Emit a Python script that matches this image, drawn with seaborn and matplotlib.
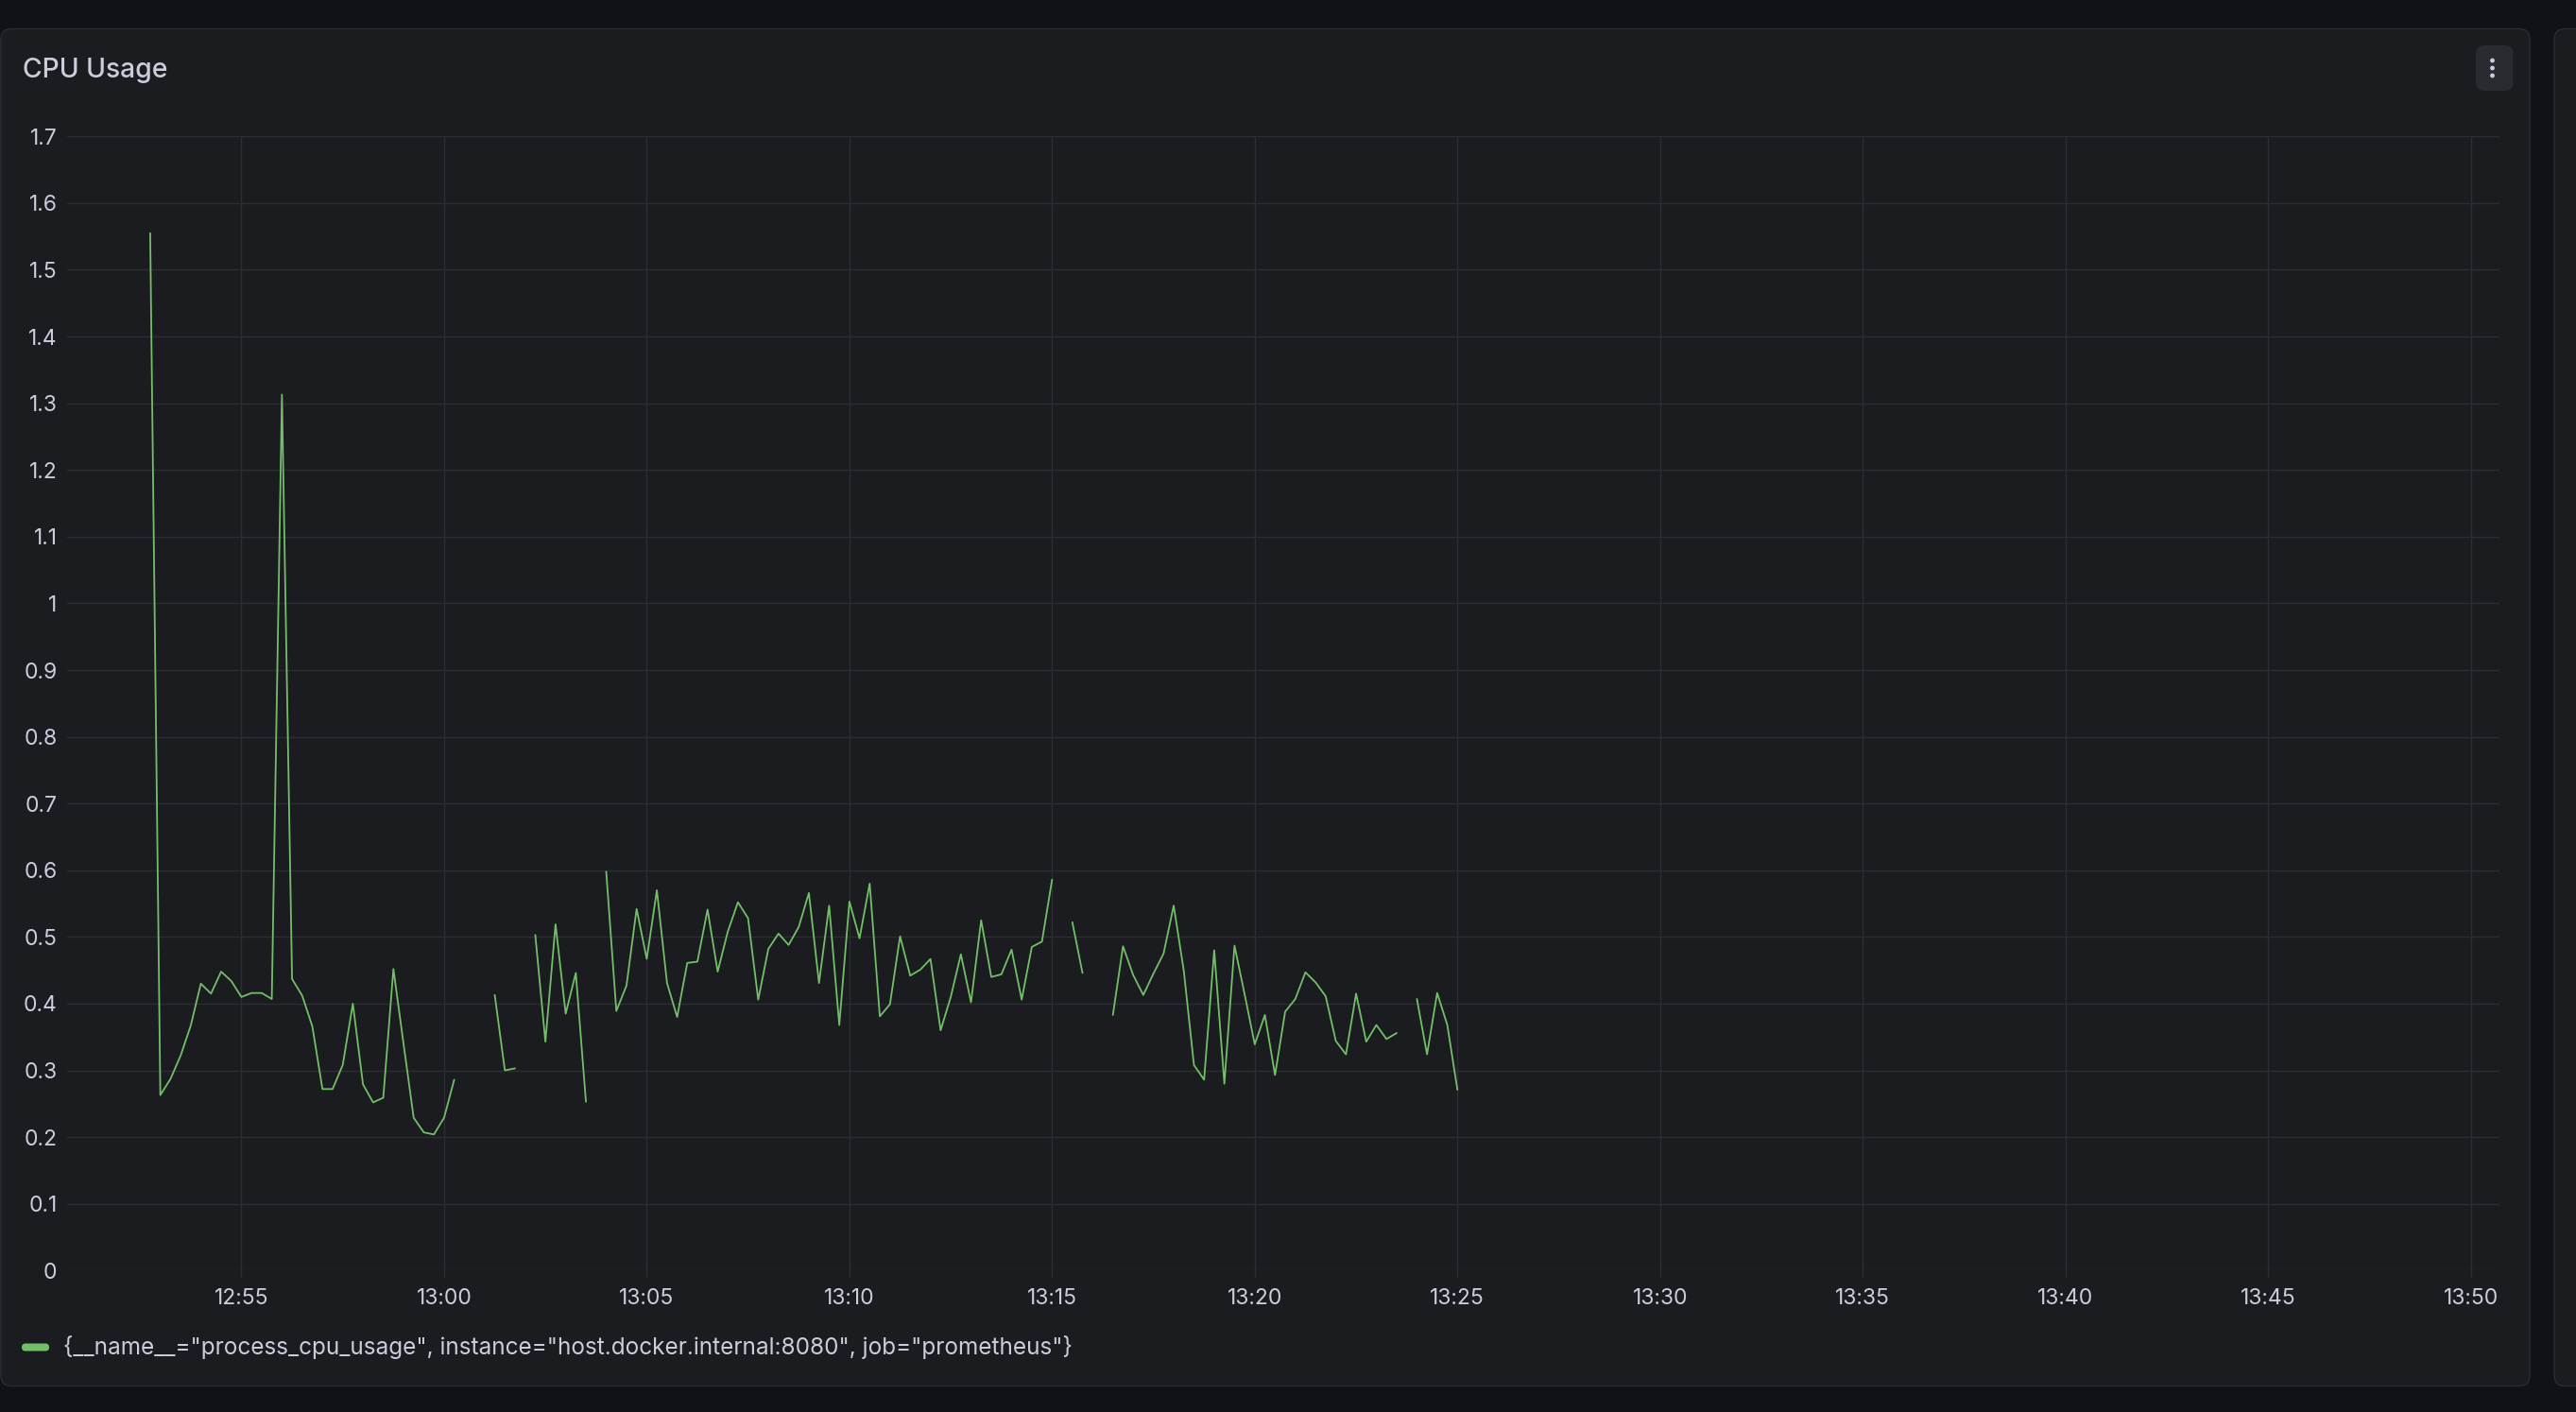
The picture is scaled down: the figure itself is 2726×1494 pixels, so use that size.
import numpy as np
import pandas as pd
import seaborn as sns
import matplotlib.pyplot as plt
import matplotlib.dates as mdates
from matplotlib.patches import FancyBboxPatch, Circle
from matplotlib.transforms import IdentityTransform

# process_cpu_usage, one sample every 15 s from 12:52:45 (nan = no data)
start_time = "2024-01-01 12:52:45"
step = "15s"
cpu_usage = [
    1.555, 0.263, 0.287, 0.322, 0.367, 0.430, 0.415, 0.448, 0.434, 0.410,
    0.416, 0.416, 0.407, 1.313, 0.437, 0.412, 0.366, 0.272, 0.272, 0.308,
    0.400, 0.279, 0.252, 0.259, 0.452, 0.340, 0.229, 0.207, 0.204, 0.229,
    0.286, np.nan, np.nan, np.nan, 0.413, 0.300, 0.303, np.nan, 0.503, 0.343,
    0.519, 0.385, 0.446, 0.253, np.nan, 0.598, 0.389, 0.427, 0.542, 0.467,
    0.570, 0.431, 0.380, 0.461, 0.463, 0.541, 0.448, 0.508, 0.552, 0.528,
    0.406, 0.482, 0.505, 0.488, 0.515, 0.566, 0.431, 0.547, 0.368, 0.553,
    0.498, 0.580, 0.381, 0.399, 0.501, 0.442, 0.451, 0.467, 0.360, 0.410,
    0.474, 0.402, 0.525, 0.440, 0.444, 0.481, 0.406, 0.485, 0.493, 0.586,
    np.nan, 0.522, 0.446, np.nan, np.nan, 0.383, 0.486, 0.443, 0.413, 0.445,
    0.475, 0.547, 0.449, 0.308, 0.286, 0.480, 0.280, 0.487, 0.414, 0.339,
    0.383, 0.293, 0.388, 0.407, 0.447, 0.432, 0.411, 0.344, 0.324, 0.415,
    0.343, 0.368, 0.347, 0.356, np.nan, 0.407, 0.324, 0.416, 0.368, 0.271,
]
view_start = "2024-01-01 12:50:42"
view_end = "2024-01-01 13:50:42"
y_ticks = [0, 0.1, 0.2, 0.3, 0.4, 0.5, 0.6, 0.7, 0.8, 0.9, 1, 1.1, 1.2, 1.3, 1.4, 1.5, 1.6, 1.7]
title = "CPU Usage"
series_name = '{__name__="process_cpu_usage", instance="host.docker.internal:8080", job="prometheus"}'

# grafana dark colours
canvas_bg = "#111217"
panel_bg = "#1b1c20"
border = "#2a2b30"
grid_col = "#2c2e33"
text_col = "#ccccdc"
green = "#73bf69"

df = pd.DataFrame({
    "time": pd.date_range(start_time, periods=len(cpu_usage), freq=step),
    "cpu": cpu_usage,
})
# split into runs so gaps stay gaps
df["segment"] = df["cpu"].isna().cumsum()

sns.set_theme(style="dark")
plt.rcParams["font.family"] = ["Inter", "DejaVu Sans"]

W, H = 2726, 1494
fig = plt.figure(figsize=(W / 100, H / 100), dpi=100, facecolor=canvas_bg)


def px_box(x, y, w, h, r, color, edge="none", z=-2):
    # rounded box in pixel coords (origin bottom-left)
    fig.patches.append(FancyBboxPatch((x, y), w, h, boxstyle=f"round,pad=0,rounding_size={r}",
                                      transform=IdentityTransform(), facecolor=color, edgecolor=edge,
                                      linewidth=1.1, figure=fig, zorder=z))


px_box(1, H - 1466.5, 2676, 1436, 11, panel_bg, border, z=-3)
px_box(2703, H - 1466.5, 120, 1436, 11, panel_bg, border, z=-3)
# menu button
px_box(2620, H - 96, 39.5, 48, 9, "#2a2b31", z=-2)
for dy in (64, 72, 80):
    fig.patches.append(Circle((2637.5, H - dy), 2.4, transform=IdentityTransform(),
                              facecolor=text_col, edgecolor="none", figure=fig, zorder=-1))

fig.text(24 / W, (H - 75) / H, title, color=text_col, fontsize=20.4, fontweight="medium",
         ha="left", va="center")

ax = fig.add_axes([71 / W, (H - 1344.3) / H, (2644.7 - 71) / W, (1344.3 - 144.3) / H])
ax.set_facecolor("none")
ax.set_zorder(2)

sns.lineplot(data=df, x="time", y="cpu", units="segment", estimator=None, color=green,
             linewidth=1.3, ax=ax, legend=False)

ax.set_xlim(pd.Timestamp(view_start), pd.Timestamp(view_end))
ax.set_ylim(0, 1.7)
ax.set_yticks(y_ticks)
ax.set_yticklabels([f"{v:g}" for v in y_ticks])
ax.xaxis.set_major_locator(mdates.MinuteLocator(byminute=range(0, 60, 5)))
ax.xaxis.set_major_formatter(mdates.DateFormatter("%H:%M"))
ax.set_xlabel("")
ax.set_ylabel("")

ax.grid(True, color=grid_col, linewidth=1.0)
for s in ax.spines.values():
    s.set_visible(False)
ax.tick_params(axis="x", colors=grid_col, labelcolor=text_col, labelsize=16.5, length=5.8,
               width=1.0, pad=7.5, direction="out", bottom=True)
ax.tick_params(axis="y", labelcolor=text_col, labelsize=16.5, length=0, pad=7.5, left=False)

# legend
px_box(23, H - 1429.5, 29, 8, 4, green, z=-1)
fig.text(67 / W, (H - 1425) / H, series_name, color=text_col, fontsize=17.5, ha="left", va="center")

fig.savefig("out.png", dpi=100, facecolor=canvas_bg)
